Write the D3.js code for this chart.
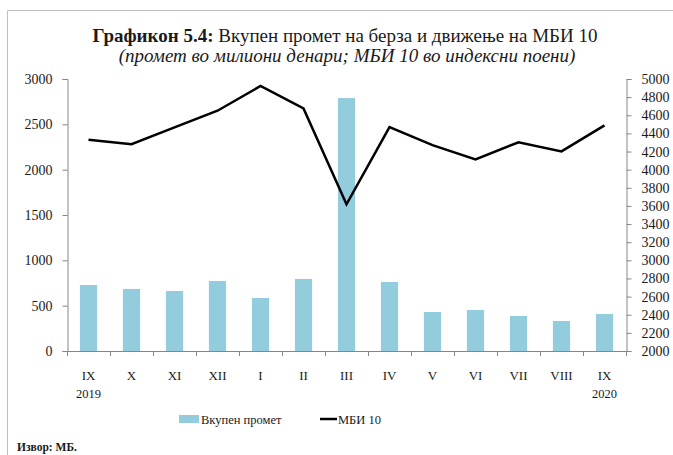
<!DOCTYPE html>
<html>
<head>
<meta charset="utf-8">
<script src="https://cdn.jsdelivr.net/npm/d3@7"></script>
<style>
  body { margin: 0; background: #ffffff; }
  text { font-family: "Liberation Serif", serif; fill: #1a1a1a; }
</style>
</head>
<body>
<script>
const width = 673;
const height = 455;

//Months on the x axis, with the year shown under the first and last one
const months = ["IX", "X", "XI", "XII", "I", "II", "III", "IV", "V", "VI", "VII", "VIII", "IX"];
const years = ["2019", "", "", "", "", "", "", "", "", "", "", "", "2020"];

//Total turnover, millions of denars (bars, left axis)
const turnover = [728, 684, 662, 772, 585, 794, 2790, 761, 430, 452, 386, 331, 408];

//MBI 10 index points (line, right axis)
const mbi10 = [4330, 4280, 4467, 4650, 4923, 4676, 3618, 4470, 4270, 4114, 4302, 4202, 4489];

const leftTicks = [0, 500, 1000, 1500, 2000, 2500, 3000];
const rightTicks = d3.range(2000, 5001, 200);

//Colors
//#93cddd bars, #000000 line, #868686 axes, #bfbfbf frame

const svg = d3.select("body").append("svg")
    .attr("width", width)
    .attr("height", height);

//Frame
svg.append("path")
    .attr("d", "M7.5,455 V10.5 H673")
    .attr("fill", "none")
    .attr("stroke", "#bfbfbf")
    .attr("stroke-width", 1);

//Title
const title = svg.append("text")
    .attr("x", 345)
    .attr("y", 42)
    .attr("text-anchor", "middle")
    .style("font-size", "19px");
title.append("tspan").style("font-weight", "bold").text("Графикон 5.4:");
title.append("tspan").text(" Вкупен промет на берза и движење на МБИ 10");

svg.append("text")
    .attr("x", 347)
    .attr("y", 62)
    .attr("text-anchor", "middle")
    .style("font-size", "19px")
    .style("font-style", "italic")
    .text("(промет во милиони денари; МБИ 10 во индексни поени)");

const plotLeft = 67;
const plotRight = 626;
const plotTop = 79;
const plotBottom = 351;

const x = d3.scaleBand()
    .domain(d3.range(months.length))
    .range([plotLeft, plotRight])
    .paddingInner(0.6)
    .paddingOuter(0.3);

const xLine = d3.scalePoint()
    .domain(d3.range(months.length))
    .range([plotLeft, plotRight])
    .padding(0.5);

const yLeft = d3.scaleLinear()
    .domain([0, 3000])
    .range([plotBottom, plotTop]);

const yRight = d3.scaleLinear()
    .domain([2000, 5000])
    .range([plotBottom, plotTop]);

//Bars
svg.selectAll(".bar")
    .data(turnover)
    .enter().append("rect")
    .attr("class", "bar")
    .attr("x", (d, i) => x(i))
    .attr("y", d => yLeft(d))
    .attr("width", x.bandwidth())
    .attr("height", d => plotBottom - yLeft(d))
    .attr("fill", "#93cddd");

//Left axis
const leftAxis = svg.append("g")
    .attr("transform", `translate(${plotLeft + 0.5},0)`)
    .call(d3.axisLeft(yLeft).tickValues(leftTicks).tickSize(5).tickPadding(10).tickFormat(d3.format("d")));

//Right axis
const rightAxis = svg.append("g")
    .attr("transform", `translate(${plotRight + 0.5},0)`)
    .call(d3.axisRight(yRight).tickValues(rightTicks).tickSize(5).tickPadding(10).tickFormat(d3.format("d")));

[leftAxis, rightAxis].forEach(ax => {
    ax.select(".domain").attr("stroke", "#868686");
    ax.selectAll(".tick line").attr("stroke", "#868686");
    ax.selectAll(".tick text")
        .style("font-family", "Liberation Serif, serif")
        .style("font-size", "14px")
        .attr("fill", "#1a1a1a");
});

//X axis, ticks at category boundaries
const step = (plotRight - plotLeft) / months.length;
const xAxis = svg.append("g");
xAxis.append("line")
    .attr("x1", plotLeft)
    .attr("x2", plotRight)
    .attr("y1", plotBottom + 0.5)
    .attr("y2", plotBottom + 0.5)
    .attr("stroke", "#868686");
xAxis.selectAll(".xtick")
    .data(d3.range(months.length + 1))
    .enter().append("line")
    .attr("x1", d => Math.round(plotLeft + d * step) + 0.5)
    .attr("x2", d => Math.round(plotLeft + d * step) + 0.5)
    .attr("y1", plotBottom)
    .attr("y2", plotBottom + 5)
    .attr("stroke", "#868686");

xAxis.selectAll(".month")
    .data(months)
    .enter().append("text")
    .attr("x", (d, i) => xLine(i))
    .attr("y", 380)
    .attr("text-anchor", "middle")
    .style("font-size", "13px")
    .text(d => d);

xAxis.selectAll(".year")
    .data(years)
    .enter().append("text")
    .attr("x", (d, i) => xLine(i))
    .attr("y", 398)
    .attr("text-anchor", "middle")
    .style("font-size", "12.5px")
    .text(d => d);

//MBI 10 line
svg.append("path")
    .datum(mbi10)
    .attr("fill", "none")
    .attr("stroke", "#000000")
    .attr("stroke-width", 2.5)
    .attr("stroke-linejoin", "miter")
    .attr("d", d3.line().x((d, i) => xLine(i)).y(d => yRight(d)));

//Legend
svg.append("rect")
    .attr("x", 179)
    .attr("y", 415)
    .attr("width", 20)
    .attr("height", 8)
    .attr("fill", "#93cddd");
svg.append("text")
    .attr("x", 201)
    .attr("y", 424)
    .style("font-size", "12.5px")
    .text("Вкупен промет");

svg.append("line")
    .attr("x1", 320)
    .attr("x2", 337)
    .attr("y1", 419)
    .attr("y2", 419)
    .attr("stroke", "#000000")
    .attr("stroke-width", 2.5);
svg.append("text")
    .attr("x", 338)
    .attr("y", 424)
    .style("font-size", "12.5px")
    .text("МБИ 10");

//Source
svg.append("text")
    .attr("x", 17)
    .attr("y", 451)
    .style("font-size", "11.5px")
    .style("font-weight", "bold")
    .text("Извор: МБ.");
</script>
</body>
</html>
